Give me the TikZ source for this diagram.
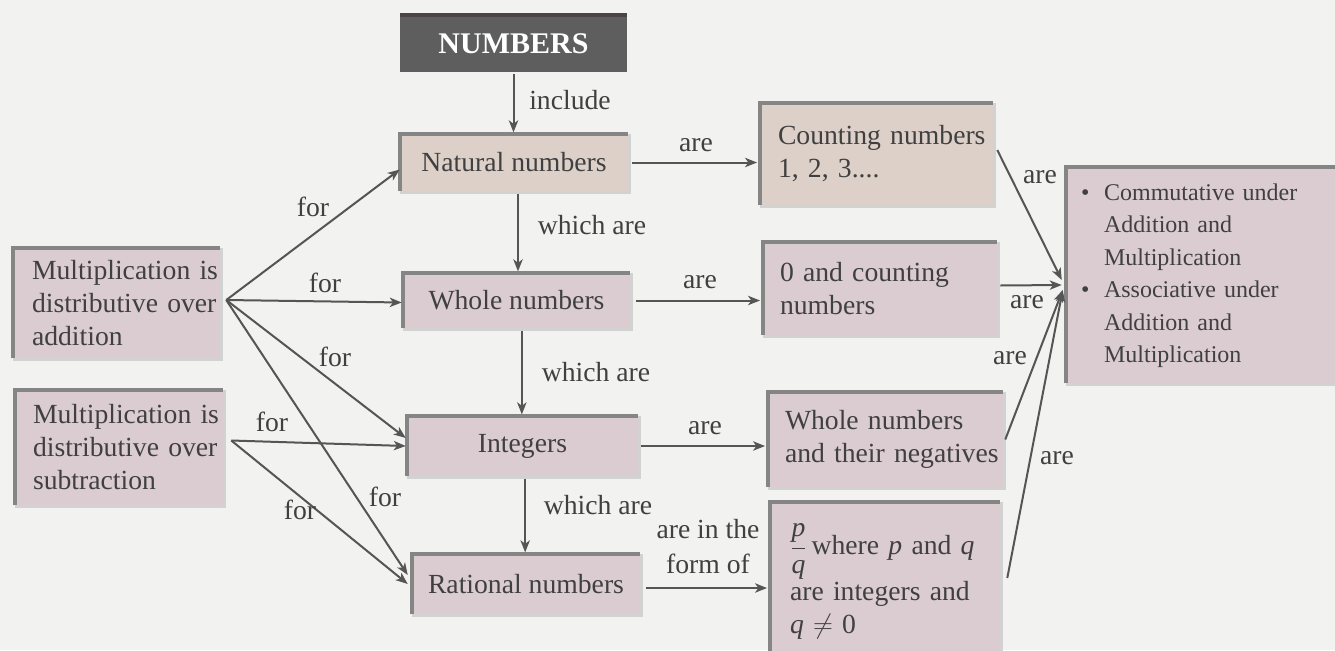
\documentclass[tikz,border=0pt]{standalone}
\usepackage{fontspec}
\setmainfont{Liberation Serif}
\usetikzlibrary{arrows.meta,calc}
\definecolor{bg}{HTML}{F2F2F0}
\definecolor{pinkbox}{HTML}{DBCCD1}
\definecolor{beigebox}{HTML}{DDD0C8}
\definecolor{edgegrey}{HTML}{858585}
\definecolor{shadegrey}{HTML}{D2D2D2}
\definecolor{txt}{HTML}{404040}
\definecolor{arr}{HTML}{555555}
\definecolor{darkbox}{HTML}{5E5E5E}
\definecolor{darkedge}{HTML}{4C4444}
\begin{document}
\begin{tikzpicture}[x=0.75pt,y=-0.75pt,
  every node/.style={font=\fontsize{20.75pt}{24.75pt}\selectfont, text=txt},
  sz/.style 2 args={minimum width=#1*0.75pt, minimum height=#2*0.75pt},
  tw/.style={text width=#1*0.75pt},
  box/.style={fill=pinkbox, inner sep=0pt, align=center},
  lbox/.style={fill=pinkbox, inner sep=0pt, align=left},
  lbl/.style={inner sep=1pt},
  conn/.style={draw=arr, line width=1.5pt, -{Stealth[length=9pt,width=7pt,inset=2.5pt]}},
  topedge/.style={draw=edgegrey, line width=3pt},
  shade/.style={draw=shadegrey, line width=2.5pt},
]
\useasboundingbox (0,0) rectangle (1335,650);
\fill[bg] (0,0) rectangle (1335,650);
\clip (0,0) rectangle (1335,650);

% main column
\node[box, fill=darkbox, sz={227}{57}, text=white, font=\fontsize{22.5pt}{26pt}\selectfont\bfseries] (numbers) at (513.5,43.5) {NUMBERS};
\node[box, fill=beigebox, sz={228}{57}] (nat) at (514,162.5) {Natural numbers};
\node[box, sz={227}{55}] (whole) at (516.5,300.5) {Whole numbers};
\node[box, sz={231}{60}] (int) at (522.5,446) {Integers};
\node[box, sz={228}{60}] (rat) at (526,584) {Rational numbers};

% left boxes
\node[lbox, sz={207}{110}, tw=169] (add) at (116.5,303)
  {\mbox{Multiplication is}\\\mbox{distributive over}\\addition};
\node[lbox, sz={208}{115}, tw=172] (sub) at (119,447.5)
  {\mbox{Multiplication is}\\\mbox{distributive over}\\subtraction};

% right boxes
\node[lbox, fill=beigebox, sz={233}{102}, tw=197] (count) at (876.5,154)
  {\mbox{Counting numbers}\\1, 2, 3....};
\node[lbox, sz={234}{93}, tw=200] (zero) at (880,288.5)
  {0 and counting\\numbers};
\node[lbox, sz={235}{95}, tw=201] (neg) at (885.5,439.5)
  {Whole numbers\\\mbox{and their negatives}};
\node[lbox, sz={230}{158}, tw=190] (pq) at (885,581)
  {\mbox{$\displaystyle\frac{\textit{p}}{\textit{q}}$\,where \textit{p} and \textit{q}}\\are integers and\\\textit{q} $\neq$ 0};
\node[lbox, sz={279}{216}, tw=249, font=\fontsize{18pt}{24.4pt}\selectfont] (big) at (1205.5,275)
  {\begin{tabular}{@{}l@{\hspace{11pt}}l@{}}
   \textbullet & Commutative under\\
   & Addition and\\
   & Multiplication\\
   \textbullet & Associative under\\
   & Addition and\\
   & Multiplication
   \end{tabular}};

% box edges
\foreach \b in {nat,whole,int,rat,add,sub,count,zero,neg,pq,big}{
  \draw[shade] ([xshift=1pt]\b.north east) -- ([xshift=1pt,yshift=-1pt]\b.south east) -- ([yshift=-1pt]\b.south west);
  \draw[topedge] (\b.south west) -- (\b.north west) -- (\b.north east);
}
\draw[draw=darkedge, line width=3pt] (numbers.north west) -- (numbers.north east);

% vertical connectors
\draw[conn] ([yshift=-1pt]numbers.south) -- ([yshift=1pt]numbers.south |- nat.north);
\draw[conn] ([xshift=3pt,yshift=-2pt]nat.south) -- ([xshift=3pt,yshift=1pt]nat.south |- whole.north);
\draw[conn] ([xshift=4pt,yshift=-2pt]whole.south) -- ([xshift=4pt,yshift=1pt]whole.south |- int.north);
\draw[conn] ([xshift=2pt,yshift=-2pt]int.south) -- ([xshift=2pt,yshift=1pt]int.south |- rat.north);

% horizontal connectors
\draw[conn] ([xshift=3pt]nat.east) -- ([xshift=-2pt]nat.east -| count.west);
\draw[conn] ([xshift=4pt]whole.east) -- ([xshift=-2pt]whole.east -| zero.west);
\draw[conn] ([xshift=2pt]int.east) -- ([xshift=-2pt]int.east -| neg.west);
\draw[conn] ([xshift=4pt,yshift=-3pt]rat.east) -- ([xshift=-2pt,yshift=-3pt]rat.east -| pq.west);

% left connectors
\coordinate (ap) at ($(add.east)+(6,-3)$);
\coordinate (sp) at ($(sub.east)+(8,-7)$);
\draw[conn] (ap) -- ($(nat.west)+(0,7)$);
\draw[conn] (ap) -- ($(whole.west)+(-1,2)$);
\draw[conn] (ap) -- ($(int.west)+(-1,-8)$);
\draw[conn] (ap) -- ($(rat.west)+(-4,-9)$);
\draw[conn] (sp) -- ($(int.west)+(-1,0)$);
\draw[conn] (sp) -- ($(rat.west)+(-4,0)$);

% right connectors into the properties box
\draw[conn] ($(count.east)+(4,-4)$) -- ($(big.west)+(-4,5)$);
\draw[conn] ($(zero.east)+(3,-3)$) -- ($(big.west)+(-4,10)$);
\draw[conn] ($(neg.east)+(2,0)$) -- ($(big.west)+(-3,15)$);
\draw[conn] ($(pq.east)+(7,-3)$) -- ($(big.west)+(-3,15)$);

% labels
\node[lbl] (l1) at (570,100) {include};
\node[lbl] (l2) at (696,145) {are};
\node[lbl] (l3) at (592,225) {which are};
\node[lbl] (l4) at (700,282) {are};
\node[lbl] (l5) at (596,372) {which are};
\node[lbl] (l6) at (705,428) {are};
\node[lbl] (l7) at (598,505) {which are};
\node[lbl, align=center, font=\fontsize{20.75pt}{26.25pt}\selectfont] (l8) at (708,547) {are in the\\form of};
\node[lbl] (f1) at (313,207) {for};
\node[lbl] (f2) at (325,283) {for};
\node[lbl] (f3) at (335,357) {for};
\node[lbl] (f4) at (272,422) {for};
\node[lbl] (f5) at (300,510) {for};
\node[lbl] (f6) at (385,497) {for};
\node[lbl] (a1) at (1040,177) {are};
\node[lbl] (a2) at (1027,302) {are};
\node[lbl] (a3) at (1010,358) {are};
\node[lbl] (a4) at (1057,458) {are};
\end{tikzpicture}
\end{document}
